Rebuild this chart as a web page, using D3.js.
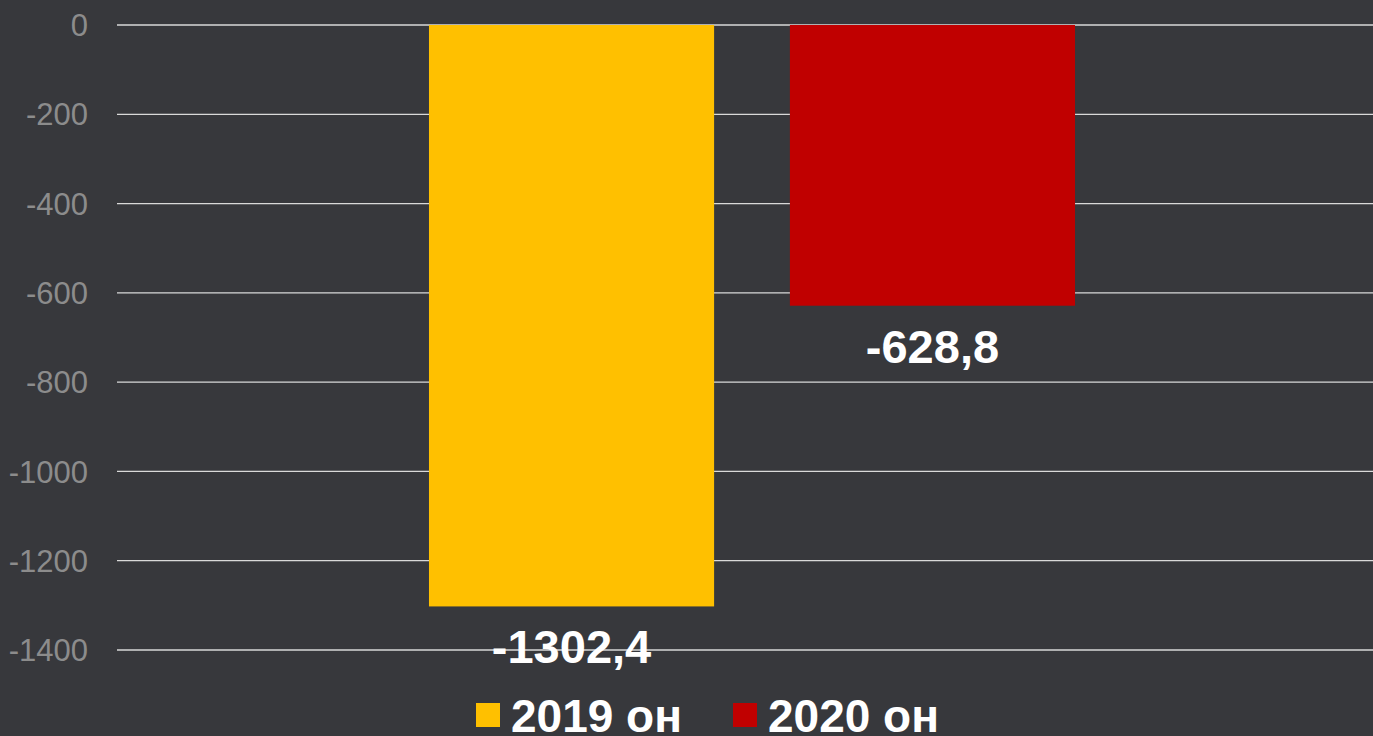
<!DOCTYPE html>
<html>
<head>
<meta charset="utf-8">
<script src="https://cdn.jsdelivr.net/npm/d3@7"></script>
<style>
  html, body { margin: 0; padding: 0; background: #37383c; }
  svg { display: block; font-family: "Liberation Sans", Arial, sans-serif; }
</style>
</head>
<body>
<svg width="1373" height="736"></svg>
<script>
const series = ["2019 он", "2020 он"]
const values = [-1302.4, -628.8]
const labels = ["-1302,4", "-628,8"]
const colors = ["#ffc000", "#c00000"]
const yTicks = [0, -200, -400, -600, -800, -1000, -1200, -1400]

const svg = d3.select("svg")

const y = d3.scaleLinear().domain([-1400, 0]).range([650, 25])
const x = d3.scaleBand().domain(series).range([124, 1380])
    .paddingInner(0.21).paddingOuter(0.845)

// gridlines
svg.append("g")
    .selectAll("line")
    .data(yTicks)
    .enter()
    .append("line")
    .attr("x1", 117)
    .attr("x2", 1373)
    .attr("y1", d => y(d))
    .attr("y2", d => y(d))
    .attr("stroke", "#d9d9d9")
    .attr("stroke-width", 1.3)

// y axis labels
svg.append("g")
    .selectAll("text")
    .data(yTicks)
    .enter()
    .append("text")
    .attr("x", 88)
    .attr("y", d => y(d))
    .attr("dy", "0.36em")
    .attr("text-anchor", "end")
    .attr("fill", "#8c8c8c")
    .style("font-size", "31px")
    .text(d => d)

// bars
svg.append("g")
    .selectAll("rect")
    .data(values)
    .enter()
    .append("rect")
    .attr("x", (d, i) => x(series[i]))
    .attr("width", x.bandwidth())
    .attr("y", y(0))
    .attr("height", d => y(d) - y(0))
    .attr("fill", (d, i) => colors[i])

// value labels
svg.append("g")
    .selectAll("text")
    .data(values)
    .enter()
    .append("text")
    .attr("x", (d, i) => x(series[i]) + x.bandwidth() / 2)
    .attr("y", d => y(d) + 57)
    .attr("text-anchor", "middle")
    .attr("fill", "#ffffff")
    .style("font-size", "47px")
    .style("font-weight", "bold")
    .text((d, i) => labels[i])

// legend
const legendX = [476, 733]
const legend = svg.append("g")
    .selectAll("g")
    .data(series)
    .enter()
    .append("g")
    .attr("transform", (d, i) => "translate(" + legendX[i] + ",0)")

legend.append("rect")
    .attr("x", 0)
    .attr("y", 703)
    .attr("width", 24)
    .attr("height", 24)
    .attr("fill", (d, i) => colors[i])

legend.append("text")
    .attr("x", 35)
    .attr("y", 732)
    .attr("fill", "#ffffff")
    .style("font-size", "46px")
    .style("font-weight", "bold")
    .text(d => d)
</script>
</body>
</html>
